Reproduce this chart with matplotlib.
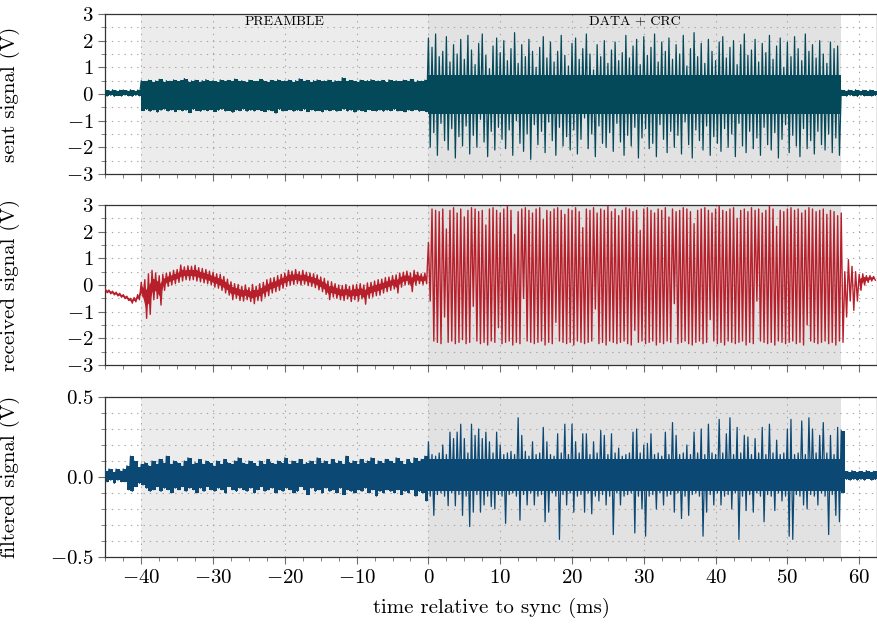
import numpy as np
import matplotlib.pyplot as plt
from matplotlib.ticker import MultipleLocator

plt.rcParams['font.family'] = 'serif'
plt.rcParams['font.serif'] = ['cmr10']
plt.rcParams['mathtext.fontset'] = 'cm'
plt.rcParams['axes.formatter.use_mathtext'] = True

# time bins (ms), 0.5 ms wide: -45.0 ... 62.0
t = np.arange(-45.0, 62.5, 0.5)

preamble = (-40, 0)
data_crc = (0, 57.5)

# per-bin max / min of each waveform (V)
sent_hi = [
    # -45 .. -40.5
    0.15, 0.13, 0.16, 0.12, 0.14, 0.15, 0.12, 0.16, 0.13, 0.15,
    # -40 .. -0.5 (preamble)
    0.50, 0.47, 0.52, 0.45, 0.49, 0.55, 0.46, 0.50, 0.48, 0.53,
    0.47, 0.51, 0.58, 0.46, 0.49, 0.52, 0.45, 0.50, 0.54, 0.47,
    0.50, 0.46, 0.53, 0.49, 0.51, 0.47, 0.56, 0.48, 0.50, 0.45,
    0.52, 0.49, 0.47, 0.55, 0.50, 0.46, 0.51, 0.48, 0.53, 0.47,
    0.49, 0.52, 0.46, 0.50, 0.57, 0.48, 0.51, 0.45, 0.50, 0.53,
    0.47, 0.49, 0.52, 0.46, 0.50, 0.48, 0.61, 0.47, 0.51, 0.49,
    0.46, 0.52, 0.48, 0.50, 0.54, 0.47, 0.49, 0.51, 0.46, 0.53,
    0.48, 0.50, 0.47, 0.52, 0.49, 0.55, 0.46, 0.50, 0.48, 0.52,
    # 0 .. 57 (data + crc)
    2.10, 1.75, 2.25, 1.40, 1.60, 2.15, 1.20, 1.85, 1.50, 2.05,
    1.30, 2.20, 1.65, 1.10, 1.90, 2.25, 1.45, 0.95, 1.80, 2.10,
    1.55, 2.00, 1.25, 1.70, 2.30, 1.15, 1.85, 1.40, 2.05, 1.60,
    1.00, 1.75, 2.15, 1.35, 1.95, 1.20, 1.60, 2.20, 1.45, 1.05,
    1.90, 2.10, 1.30, 1.70, 2.25, 1.50, 0.90, 1.85, 1.40, 2.00,
    1.15, 1.65, 1.95, 1.25, 1.55, 2.20, 1.35, 1.80, 2.05, 1.10,
    2.15, 1.45, 1.75, 2.25, 1.20, 1.95, 1.60, 2.10, 1.30, 1.85,
    1.50, 2.20, 1.05, 1.70, 2.30, 1.40, 1.90, 1.15, 2.05, 1.60,
    1.25, 1.95, 2.15, 1.35, 1.75, 2.00, 1.10, 1.85, 2.25, 1.45,
    1.65, 2.05, 1.20, 1.90, 1.55, 2.20, 1.30, 1.80, 2.10, 1.00,
    1.95, 1.40, 2.15, 1.70, 1.25, 2.25, 1.60, 1.85, 1.35, 2.00,
    1.50, 1.15, 1.95, 1.70, 1.80,
    # 57.5 .. 62
    0.14, 0.12, 0.15, 0.13, 0.16, 0.12, 0.14, 0.13, 0.15, 0.12,
]
sent_lo = [
    -0.08, -0.05, -0.09, -0.06, -0.08, -0.04, -0.07, -0.09, -0.05, -0.07,
    -0.62, -0.58, -0.65, -0.60, -0.68, -0.61, -0.57, -0.64, -0.60, -0.66,
    -0.59, -0.63, -0.61, -0.70, -0.58, -0.62, -0.65, -0.60, -0.63, -0.59,
    -0.66, -0.61, -0.58, -0.64, -0.62, -0.69, -0.60, -0.63, -0.57, -0.65,
    -0.61, -0.64, -0.59, -0.62, -0.66, -0.60, -0.63, -0.72, -0.58, -0.64,
    -0.62, -0.59, -0.65, -0.61, -0.63, -0.58, -0.66, -0.60, -0.64, -0.62,
    -0.67, -0.60, -0.63, -0.59, -0.65, -0.62, -0.58, -0.64, -0.61, -0.68,
    -0.60, -0.63, -0.66, -0.59, -0.62, -0.64, -0.60, -0.65, -0.61, -0.63,
    -0.58, -0.64, -0.62, -0.67, -0.60, -0.63, -0.59, -0.65, -0.62, -0.66,
    -2.00, -1.45, -2.30, -1.10, -1.75, -2.10, -1.30, -2.40, -1.60, -1.95,
    -1.20, -2.25, -1.55, -2.00, -0.95, -1.80, -2.35, -1.40, -2.10, -1.25,
    -1.70, -2.05, -1.35, -2.30, -1.00, -1.85, -2.15, -1.50, -2.45, -1.15,
    -1.90, -1.40, -2.20, -1.05, -1.75, -2.30, -1.25, -1.95, -1.60, -2.10,
    -1.35, -2.25, -1.70, -0.90, -2.05, -1.50, -2.35, -1.20, -1.85, -2.00,
    -1.45, -2.15, -1.10, -1.80, -2.30, -1.55, -1.95, -1.25, -2.40, -1.65,
    -1.30, -2.05, -1.85, -2.35, -1.15, -1.70, -2.20, -1.40, -2.00, -1.55,
    -2.25, -1.05, -1.90, -2.40, -1.35, -1.75, -2.10, -1.20, -2.30, -1.60,
    -1.85, -2.15, -1.30, -2.00, -1.50, -2.35, -1.10, -1.95, -2.20, -1.40,
    -2.05, -1.65, -2.30, -1.25, -1.90, -2.10, -1.45, -2.40, -1.70, -1.15,
    -2.20, -1.55, -1.95, -2.35, -1.30, -2.05, -1.75, -2.25, -1.40, -1.90,
    -2.10, -1.50, -2.20, -1.65, -2.30,
    -0.06, -0.08, -0.05, -0.07, -0.09, -0.05, -0.07, -0.06, -0.08, -0.05,
]

recv_hi = [
    -0.15, -0.19, -0.23, -0.27, -0.31, -0.36, -0.42, -0.50, -0.47, -0.36,
    0.10, 0.20, 0.42, 0.55, 0.45, 0.35, 0.40, 0.45, 0.48, 0.55,
    0.58, 0.75, 0.68, 0.72, 0.70, 0.74, 0.65, 0.62, 0.58, 0.52,
    0.48, 0.42, 0.40, 0.32, 0.22, 0.12, 0.05, 0.02, -0.05, 0.00,
    -0.10, 0.02, -0.05, 0.05, 0.10, 0.20, 0.25, 0.28, 0.35, 0.40,
    0.45, 0.55, 0.52, 0.58, 0.50, 0.55, 0.48, 0.45, 0.42, 0.38,
    0.30, 0.25, 0.15, 0.12, 0.05, 0.00, -0.02, 0.02, -0.05, 0.00,
    0.02, 0.05, 0.00, 0.08, 0.10, 0.15, 0.20, 0.22, 0.28, 0.30,
    0.35, 0.38, 0.45, 0.48, 0.52, 0.45, 0.55, 0.48, 0.42, 0.45,
    1.60, 2.85, 2.80, 2.75, 2.85, 2.10, 2.80, 2.90, 2.70, 2.85,
    2.55, 2.80, 2.90, 2.85, 2.75, 2.80, 2.25, 2.85, 2.90, 2.80,
    2.70, 2.85, 2.95, 2.80, 1.90, 2.75, 2.85, 2.90, 2.80, 2.70,
    2.85, 2.90, 2.45, 2.80, 2.75, 2.85, 2.90, 2.80, 2.65, 2.85,
    2.80, 2.90, 2.75, 2.15, 2.85, 2.80, 2.90, 2.70, 2.85, 2.80,
    2.95, 2.75, 2.85, 2.60, 2.80, 2.90, 2.85, 2.75, 2.80, 2.05,
    2.85, 2.90, 2.80, 2.70, 2.85, 2.80, 2.90, 2.55, 2.85, 2.75,
    2.80, 2.90, 2.85, 2.75, 2.30, 2.80, 2.85, 2.90, 2.80, 2.70,
    2.85, 2.95, 2.80, 2.75, 2.85, 2.90, 2.50, 2.80, 2.85, 2.75,
    2.90, 2.80, 2.85, 2.70, 2.80, 2.95, 2.85, 2.20, 2.80, 2.75,
    2.85, 2.90, 2.80, 2.85, 2.70, 2.80, 2.90, 2.85, 2.75, 2.80,
    2.85, 2.65, 2.80, 2.75, 2.60,
    2.70, 0.50, 0.95, 0.70, 0.50, 0.40, 0.42, 0.35, 0.35, 0.32,
]
recv_lo = [
    -0.29, -0.33, -0.37, -0.41, -0.46, -0.51, -0.58, -0.68, -0.63, -0.55,
    -0.45, -1.25, -1.10, -0.55, -0.50, -0.75, -0.20, -0.05, 0.00, 0.05,
    0.10, 0.15, 0.20, 0.18, 0.20, 0.15, 0.12, 0.08, 0.05, 0.00,
    -0.08, -0.12, -0.20, -0.30, -0.38, -0.55, -0.50, -0.58, -0.60, -0.55,
    -0.62, -0.70, -0.58, -0.60, -0.45, -0.40, -0.30, -0.25, -0.20, -0.12,
    -0.05, 0.00, 0.02, 0.05, 0.00, 0.03, -0.02, -0.05, -0.10, -0.18,
    -0.25, -0.35, -0.55, -0.45, -0.50, -0.55, -0.58, -0.52, -0.62, -0.55,
    -0.60, -0.52, -0.72, -0.50, -0.45, -0.40, -0.38, -0.30, -0.25, -0.20,
    -0.15, -0.30, -0.08, 0.00, 0.02, -0.25, 0.00, 0.05, 0.02, 0.05,
    -0.60, -2.10, -2.15, -2.20, -1.20, -2.15, -2.10, -2.20, -2.15, -2.05,
    -2.20, -2.15, -0.80, -2.10, -2.20, -2.15, -2.25, -2.10, -2.15, -1.60,
    -2.20, -2.15, -2.10, -2.25, -2.15, -2.20, -0.50, -2.10, -2.15, -2.20,
    -2.15, -2.10, -2.25, -2.15, -2.20, -1.40, -2.10, -2.15, -2.20, -2.15,
    -2.25, -2.10, -2.15, -2.20, -2.15, -2.10, -0.90, -2.20, -2.15, -2.25,
    -2.10, -2.15, -2.20, -2.15, -2.10, -2.20, -2.25, -1.70, -2.15, -2.10,
    -2.20, -2.15, -2.10, -2.25, -2.15, -2.20, -2.10, -2.15, -0.70, -2.20,
    -2.15, -2.10, -2.20, -2.25, -2.15, -2.10, -2.20, -2.15, -1.30, -2.10,
    -2.20, -2.15, -2.25, -2.10, -2.15, -2.20, -2.15, -2.10, -2.25, -2.15,
    -2.20, -0.60, -2.10, -2.15, -2.20, -2.15, -2.25, -2.10, -2.15, -2.20,
    -2.15, -2.10, -2.20, -2.15, -2.25, -1.50, -2.10, -2.15, -2.20, -2.15,
    -2.10, -2.20, -2.15, -2.25, -2.10,
    -2.15, -1.20, -0.60, -0.95, -0.60, -0.20, 0.00, 0.10, 0.15, 0.18,
]

filt_hi = [
    0.04, 0.05, 0.03, 0.05, 0.04, 0.05, 0.07, 0.13, 0.10, 0.06,
    0.08, 0.09, 0.07, 0.10, 0.08, 0.11, 0.09, 0.13, 0.08, 0.10,
    0.09, 0.07, 0.10, 0.12, 0.08, 0.09, 0.11, 0.08, 0.10, 0.09,
    0.07, 0.10, 0.08, 0.11, 0.09, 0.08, 0.10, 0.12, 0.09, 0.08,
    0.10, 0.09, 0.07, 0.10, 0.08, 0.11, 0.09, 0.08, 0.10, 0.09,
    0.12, 0.08, 0.10, 0.09, 0.11, 0.08, 0.09, 0.10, 0.08, 0.12,
    0.09, 0.10, 0.08, 0.11, 0.09, 0.10, 0.08, 0.13, 0.09, 0.10,
    0.08, 0.11, 0.09, 0.10, 0.12, 0.08, 0.10, 0.09, 0.11, 0.10,
    0.09, 0.12, 0.10, 0.08, 0.11, 0.09, 0.12, 0.10, 0.11, 0.13,
    0.22, 0.14, 0.13, 0.15, 0.20, 0.14, 0.28, 0.24, 0.28, 0.33,
    0.24, 0.15, 0.33, 0.26, 0.30, 0.24, 0.28, 0.22, 0.15, 0.28,
    0.20, 0.14, 0.15, 0.16, 0.14, 0.37, 0.26, 0.16, 0.13, 0.22,
    0.14, 0.15, 0.31, 0.22, 0.14, 0.13, 0.27, 0.15, 0.33, 0.14,
    0.33, 0.22, 0.15, 0.27, 0.27, 0.14, 0.22, 0.15, 0.29, 0.26,
    0.14, 0.27, 0.15, 0.18, 0.13, 0.14, 0.15, 0.28, 0.30, 0.15,
    0.20, 0.21, 0.27, 0.14, 0.15, 0.13, 0.28, 0.14, 0.34, 0.26,
    0.14, 0.15, 0.20, 0.14, 0.28, 0.15, 0.30, 0.14, 0.33, 0.15,
    0.14, 0.36, 0.15, 0.27, 0.37, 0.14, 0.31, 0.15, 0.26, 0.25,
    0.14, 0.24, 0.15, 0.31, 0.14, 0.33, 0.15, 0.23, 0.14, 0.15,
    0.30, 0.36, 0.14, 0.15, 0.35, 0.14, 0.37, 0.30, 0.15, 0.26,
    0.34, 0.15, 0.26, 0.14, 0.31,
    0.29, 0.035, 0.03, 0.04, 0.03, 0.035, 0.03, 0.04, 0.03, 0.035,
]
filt_lo = [
    -0.03, -0.02, -0.04, -0.02, -0.03, -0.03, -0.08, -0.09, -0.06, -0.04,
    -0.05, -0.07, -0.09, -0.08, -0.06, -0.09, -0.07, -0.08, -0.10, -0.07,
    -0.08, -0.06, -0.09, -0.07, -0.08, -0.10, -0.07, -0.09, -0.06, -0.08,
    -0.09, -0.07, -0.08, -0.10, -0.06, -0.08, -0.09, -0.07, -0.08, -0.09,
    -0.07, -0.10, -0.08, -0.06, -0.09, -0.08, -0.07, -0.10, -0.08, -0.09,
    -0.07, -0.08, -0.10, -0.09, -0.06, -0.08, -0.11, -0.07, -0.09, -0.08,
    -0.10, -0.07, -0.09, -0.08, -0.10, -0.07, -0.11, -0.08, -0.09, -0.10,
    -0.08, -0.09, -0.07, -0.10, -0.08, -0.12, -0.09, -0.10, -0.08, -0.09,
    -0.10, -0.08, -0.11, -0.09, -0.10, -0.08, -0.12, -0.09, -0.10, -0.15,
    -0.12, -0.24, -0.11, -0.10, -0.12, -0.18, -0.10, -0.18, -0.11, -0.24,
    -0.12, -0.31, -0.22, -0.11, -0.22, -0.175, -0.12, -0.185, -0.20, -0.11,
    -0.12, -0.29, -0.11, -0.10, -0.12, -0.27, -0.11, -0.175, -0.10, -0.175,
    -0.12, -0.11, -0.28, -0.22, -0.10, -0.12, -0.39, -0.11, -0.175, -0.10,
    -0.22, -0.12, -0.11, -0.22, -0.10, -0.23, -0.12, -0.15, -0.11, -0.175,
    -0.12, -0.36, -0.10, -0.175, -0.12, -0.11, -0.10, -0.35, -0.12, -0.20,
    -0.37, -0.12, -0.11, -0.20, -0.10, -0.175, -0.12, -0.11, -0.22, -0.10,
    -0.26, -0.12, -0.24, -0.11, -0.10, -0.12, -0.37, -0.22, -0.11, -0.175,
    -0.10, -0.175, -0.12, -0.11, -0.20, -0.10, -0.39, -0.12, -0.21, -0.11,
    -0.22, -0.10, -0.12, -0.28, -0.11, -0.12, -0.21, -0.10, -0.15, -0.12,
    -0.37, -0.39, -0.11, -0.12, -0.175, -0.20, -0.11, -0.12, -0.175, -0.10,
    -0.12, -0.36, -0.11, -0.24, -0.28,
    -0.10, -0.015, -0.02, -0.015, -0.02, -0.015, -0.02, -0.01, -0.02, -0.015,
]

# extent of the solid band inside the data burst, where single spikes stick out
sent_core = (0.70, -0.75)
filt_core = (0.11, -0.09)

panels = [
    ('sent signal (V)', sent_hi, sent_lo, '#03495a', 0.9, (-3, 3), 1, 0.5),
    ('received signal (V)', recv_hi, recv_lo, '#b71f2b', 1.0, (-3, 3), 1, 0.5),
    ('filtered signal (V)', filt_hi, filt_lo, '#0b4874', 0.9, (-0.5, 0.5), 0.5, 0.1),
]
cores = [sent_core, None, filt_core]

fig = plt.figure(figsize=(8.78, 6.3), dpi=100)
rects = [
    [0.120, 0.7238, 0.879, 0.2540],
    [0.120, 0.4206, 0.879, 0.2540],
    [0.120, 0.1159, 0.879, 0.2540],
]

grid_kw = dict(ls=(0, (1.2, 4.5)), color='#a5a5a5', lw=0.8)

te = np.append(t, t[-1] + 0.5)
in_data = (te >= data_crc[0]) & (te < data_crc[1])

axes = []
for rect, (label, hi, lo, color, lw, ylim, major, minor), core in zip(rects, panels, cores):
    ax = fig.add_axes(rect)
    axes.append(ax)
    ax.axvspan(*preamble, color='#ececec', lw=0, zorder=0)
    ax.axvspan(*data_crc, color='#e2e2e2', lw=0, zorder=0)

    hi = np.asarray(hi)
    lo = np.asarray(lo)
    if core is not None:
        he = np.append(hi, hi[-1])
        le = np.append(lo, lo[-1])
        ax.fill_between(te, np.where(in_data, core[0], he), np.where(in_data, core[1], le),
                        step='post', color=color, lw=0, zorder=2)
    else:
        # thick noisy trace outside the data burst
        mid = (hi + lo) / 2
        half = 0.22 * (hi - lo)
        quiet = (t < 0) | (t >= 60)
        ax.fill_between(t + 0.125, mid + half, mid - half, where=quiet,
                        color=color, lw=0, zorder=2)

    # min/max of each bin drawn as one stroke, like a waveform viewer
    x = np.column_stack([t, t + 0.25]).ravel()
    y = np.column_stack([hi, lo]).ravel()
    ax.plot(x, y, color=color, lw=lw, zorder=3)

    ax.set_xlim(-45, 62.5)
    ax.set_ylim(*ylim)
    ax.xaxis.set_major_locator(MultipleLocator(10))
    ax.xaxis.set_minor_locator(MultipleLocator(2.5))
    ax.yaxis.set_major_locator(MultipleLocator(major))
    ax.yaxis.set_minor_locator(MultipleLocator(minor))
    ax.grid(True, which='major', axis='x', **grid_kw)
    ax.grid(True, which='both', axis='y', **grid_kw)
    ax.set_axisbelow(True)

    ax.tick_params(which='both', direction='out', color='#6f6f6f', labelsize=15)
    ax.tick_params(which='major', length=5, width=0.8)
    ax.tick_params(which='minor', length=3, width=0.6)
    for s in ax.spines.values():
        s.set_color('#333333')
        s.set_linewidth(0.9)

    ax.set_ylabel(label, fontsize=15)
    ax.yaxis.set_label_coords(-0.111, 0.5)

axes[0].tick_params(labelbottom=False)
axes[1].tick_params(labelbottom=False)
axes[2].set_yticks([-0.5, 0.0, 0.5])
axes[2].set_yticklabels(['$-0.5$', '$0.0$', '$0.5$'])
axes[2].set_xlabel('time relative to sync (ms)', fontsize=15, labelpad=8)

axes[0].text(-20, 2.72, 'PREAMBLE', ha='center', va='center', fontsize=10)
axes[0].text(28.75, 2.72, 'DATA + CRC', ha='center', va='center', fontsize=10)

fig.savefig('out.png', dpi=100)
